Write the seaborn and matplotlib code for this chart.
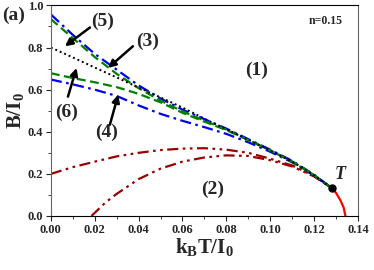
import matplotlib
matplotlib.use("Agg")

import matplotlib.pyplot as plt
from matplotlib.ticker import MultipleLocator
import seaborn as sns

sns.set_style("ticks")
plt.rcParams["font.family"] = ["Liberation Serif", "DejaVu Serif"]
plt.rcParams["font.weight"] = "bold"
plt.rcParams["mathtext.fontset"] = "custom"
plt.rcParams["mathtext.rm"] = "Liberation Serif:bold"
plt.rcParams["mathtext.it"] = "Liberation Serif:italic:bold"
plt.rcParams["mathtext.bf"] = "Liberation Serif:bold"

# temperatures along the common grid (k_B T / I_0)
t_grid = [0.0, 0.01, 0.02, 0.03, 0.04, 0.05, 0.06, 0.07, 0.08, 0.09, 0.10, 0.11, 0.12, 0.128]

b_curve3 = [0.957, 0.86, 0.77, 0.695, 0.62, 0.558, 0.505, 0.46, 0.415, 0.365, 0.315, 0.262, 0.196, 0.133]
b_curve5 = [0.80, 0.753, 0.705, 0.658, 0.61, 0.563, 0.515, 0.462, 0.412, 0.362, 0.311, 0.258, 0.194, 0.133]
b_green_up = [0.935, 0.845, 0.755, 0.675, 0.607, 0.548, 0.497, 0.453, 0.41, 0.362, 0.312, 0.259, 0.195, 0.133]
b_green_low = [0.678, 0.655, 0.635, 0.612, 0.58, 0.54, 0.49, 0.448, 0.408, 0.361, 0.311, 0.258, 0.194, 0.133]
b_curve4 = [0.648, 0.625, 0.60, 0.57, 0.525, 0.485, 0.452, 0.422, 0.39, 0.35, 0.305, 0.255, 0.192, 0.133]
b_red_up = [0.20, 0.232, 0.258, 0.283, 0.30, 0.313, 0.32, 0.322, 0.315, 0.30, 0.272, 0.24, 0.19, 0.133]

t_red_low = [0.0185, 0.02, 0.025, 0.03, 0.04, 0.05, 0.06, 0.07, 0.08, 0.09, 0.10, 0.11, 0.12, 0.128]
b_red_low = [0.0, 0.015, 0.065, 0.105, 0.175, 0.225, 0.258, 0.278, 0.288, 0.285, 0.265, 0.235, 0.188, 0.133]

t_solid = [0.128, 0.130, 0.132, 0.1335, 0.1343]
b_solid = [0.133, 0.11, 0.075, 0.04, 0.0]

t_point, b_point = 0.128, 0.133

fig, ax = plt.subplots(figsize=(3.74, 2.70), dpi=100)
fig.subplots_adjust(left=0.136, right=0.957, bottom=0.2, top=0.98)

dashdot = (0, (5, 2, 1.2, 2))
dashdotdot = (0, (5, 2, 1.2, 2, 1.2, 2))

sns.lineplot(x=t_red_low, y=b_red_low, ax=ax, color="#990000", lw=1.6, linestyle=dashdotdot)
sns.lineplot(x=t_grid, y=b_red_up, ax=ax, color="#990000", lw=1.6, linestyle=dashdotdot)
sns.lineplot(x=t_grid, y=b_curve4, ax=ax, color="#0000ee", lw=1.6, linestyle=dashdot)
sns.lineplot(x=t_grid, y=b_green_low, ax=ax, color="#008000", lw=1.6, linestyle=(0, (4, 2)))
sns.lineplot(x=t_grid, y=b_curve3, ax=ax, color="#0000ee", lw=1.6, linestyle=dashdot)
sns.lineplot(x=t_grid, y=b_green_up, ax=ax, color="#008000", lw=1.6, linestyle=(0, (4, 2)))
sns.lineplot(x=t_grid, y=b_curve5, ax=ax, color="black", lw=1.4, linestyle=(0, (1, 1.5)))
sns.lineplot(x=t_solid, y=b_solid, ax=ax, color="#ff0000", lw=1.6)
ax.plot([t_point], [b_point], "o", color="black", ms=5, zorder=5)

ax.set_xlim(0, 0.14)
ax.set_ylim(0, 1.0)
ax.xaxis.set_major_locator(MultipleLocator(0.02))
ax.xaxis.set_minor_locator(MultipleLocator(0.01))
ax.yaxis.set_major_locator(MultipleLocator(0.2))
ax.yaxis.set_minor_locator(MultipleLocator(0.1))
ax.xaxis.set_major_formatter(plt.FormatStrFormatter("%.2f"))
ax.yaxis.set_major_formatter(plt.FormatStrFormatter("%.1f"))
ax.tick_params(which="major", direction="out", length=3.5, width=0.8, labelsize=9, pad=2)
ax.tick_params(which="minor", direction="out", length=2, width=0.6)
ax.tick_params(top=False, right=False)
for side in ["left", "right"]:
    ax.spines[side].set_color("#666666")
for side in ["top", "bottom"]:
    ax.spines[side].set_color("black")

ax.set_xlabel(r"$\mathbf{k_BT/I_0}$", fontsize=15, labelpad=0)
ax.set_ylabel(r"$\mathbf{B/I_0}$", fontsize=15, labelpad=1)

ax.text(0.133, 0.955, "n=0.15", fontsize=8.5, fontweight="bold", ha="right", va="top")
ax.text(0.0937, 0.69, "(1)", fontsize=14, fontweight="bold", ha="center", va="center")
ax.text(0.0738, 0.125, "(2)", fontsize=14, fontweight="bold", ha="center", va="center")
ax.text(0.1317, 0.195, "T", fontsize=13, fontweight="bold", fontstyle="italic", ha="center", va="center")
fig.text(0.005, 0.945, "(a)", fontsize=14, fontweight="bold", ha="left", va="center")

arrows = [
    ("(5)", (0.0064, 0.806), (0.0178, 0.895), (0.0237, 0.925)),
    ("(3)", (0.0261, 0.703), (0.0374, 0.806), (0.0442, 0.83)),
    ("(6)", (0.0117, 0.703), (0.0078, 0.567), (0.0072, 0.49)),
    ("(4)", (0.0307, 0.576), (0.0269, 0.433), (0.0254, 0.395)),
]
for lab, tip, tail, pos in arrows:
    ax.annotate("", xy=tip, xytext=tail,
                arrowprops=dict(arrowstyle="-|>", color="black", lw=1.8, mutation_scale=11,
                                shrinkA=0, shrinkB=0))
    ax.text(pos[0], pos[1], lab, fontsize=14, fontweight="bold", ha="center", va="center")

fig.canvas.draw()
plt.setp(ax.get_xticklabels() + ax.get_yticklabels(), fontweight="bold")

fig.savefig("out.png", dpi=100)
